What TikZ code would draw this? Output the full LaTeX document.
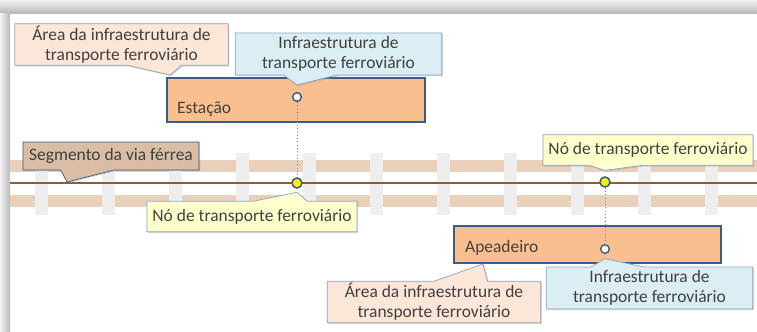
\documentclass[tikz,border=0pt]{standalone}
\usepackage{fontspec}
\setmainfont{Carlito}
\usetikzlibrary{shapes.callouts,shadows}

\definecolor{railtan}{RGB}{232,208,186}
\definecolor{tiegray}{RGB}{238,238,238}
\definecolor{railbrown}{RGB}{158,88,40}
\definecolor{boxorange}{RGB}{249,191,143}
\definecolor{boxblue}{RGB}{56,93,138}
\definecolor{peach}{RGB}{252,230,216}
\definecolor{paleblue}{RGB}{219,238,244}
\definecolor{paleyellow}{RGB}{255,255,204}
\definecolor{segtan}{RGB}{217,189,164}
\definecolor{edgegray}{RGB}{140,162,192}
\definecolor{txtgray}{RGB}{64,64,64}

\tikzset{
  txt/.style={text=txtgray, font=\fontsize{14.9}{17}\selectfont},
  callbox/.style={rectangle callout, txt, draw=edgegray, line width=0.6pt,
    align=center, inner sep=0pt, callout pointer width=1.6cm,
    drop shadow={shadow xshift=1pt, shadow yshift=-1pt, opacity=.3}},
  areabox/.style={callbox, fill=peach, minimum width=6.4cm, minimum height=1.25cm},
  infrabox/.style={callbox, fill=paleblue, minimum width=6.2cm, minimum height=1.26cm},
  nobox/.style={callbox, fill=paleyellow, minimum width=6.3cm, minimum height=0.92cm},
  segbox/.style={callbox, fill=segtan, draw=boxblue, minimum width=5.28cm, minimum height=0.84cm},
  stopbox/.style={rectangle, draw=boxblue, line width=1.4pt, fill=boxorange},
  infrapt/.style={circle, draw=boxblue, line width=1.2pt, fill=white, inner sep=0pt, minimum size=0.26cm},
  nodept/.style={circle, draw=boxblue, line width=1.3pt, fill=yellow, inner sep=0pt, minimum size=0.3cm},
}

\begin{document}
\begin{tikzpicture}[x=0.03cm, y=-0.03cm]
  \useasboundingbox (0,0) rectangle (757,331);
  % panel and its shadow
  \fill[white] (0,0) rectangle (757,331);
  \shade[top color=gray!10, bottom color=gray!55] (0,0) rectangle (757,13);
  \shade[left color=gray!10, right color=gray!55] (0,13) rectangle (10,331);

  % track
  \fill[railtan] (10,160) rectangle (757,172);
  \fill[railtan] (10,195) rectangle (757,207);
  \foreach \i in {0,...,10}
    \fill[tiegray] ({35+67*\i},153) rectangle ++(13,62);
  \draw[railbrown, line width=2.5pt] (10,183) -- (757,183);

  % stops
  \node[stopbox, minimum width=7.74cm, minimum height=1.32cm] (estacao) at (296,100) {};
  \node[txt, anchor=west] (estTxt) at (173,109) {Estação};
  \node[stopbox, minimum width=8.01cm, minimum height=1.11cm] (apeadeiro) at (587.5,244.5) {};
  \node[txt, anchor=west] (apeTxt) at (461,248) {Apeadeiro};

  \node[infrapt] (ptEst) at (297,97) {};
  \node[infrapt] (ptApe) at (605,249) {};
  \node[nodept] (nodeEst) at (297,183) {};
  \node[nodept] (nodeApe) at (605,182) {};

  \draw[gray, dotted, line width=0.8pt] (ptEst) -- (nodeEst);
  \draw[gray, dotted, line width=0.8pt] (nodeApe) -- (ptApe);

  \coordinate (segTip) at (67,182);
  \coordinate (areaEstTip) at (170,75);
  \coordinate (areaApeTip) at (483,264);

  % callouts
  \node[areabox, callout absolute pointer={(areaEstTip)}] (areaEst) at (121.5,44.5)
    {Área da infraestrutura de\\transporte ferroviário};
  \node[infrabox, callout absolute pointer={([yshift=6pt]ptEst.north)}] (infraEst) at (338.5,54)
    {Infraestrutura de\\transporte ferroviário};
  \node[segbox, callout absolute pointer={(segTip)}] (segVia) at (111,156)
    {Segmento da via férrea};
  \node[nobox, callout absolute pointer={([yshift=-3pt]nodeEst.south)}] (noEst) at (252,216.5)
    {Nó de transporte ferroviário};
  \node[nobox, callout absolute pointer={([yshift=5pt]nodeApe.north)}] (noApe) at (648,150)
    {Nó de transporte ferroviário};
  \node[infrabox, callout absolute pointer={([yshift=-4pt]ptApe.south)}] (infraApe) at (649.5,288)
    {Infraestrutura de\\transporte ferroviário};
  \node[areabox, callout absolute pointer={(areaApeTip)}] (areaApe) at (434,302)
    {Área da infraestrutura de\\transporte ferroviário};
\end{tikzpicture}
\end{document}
